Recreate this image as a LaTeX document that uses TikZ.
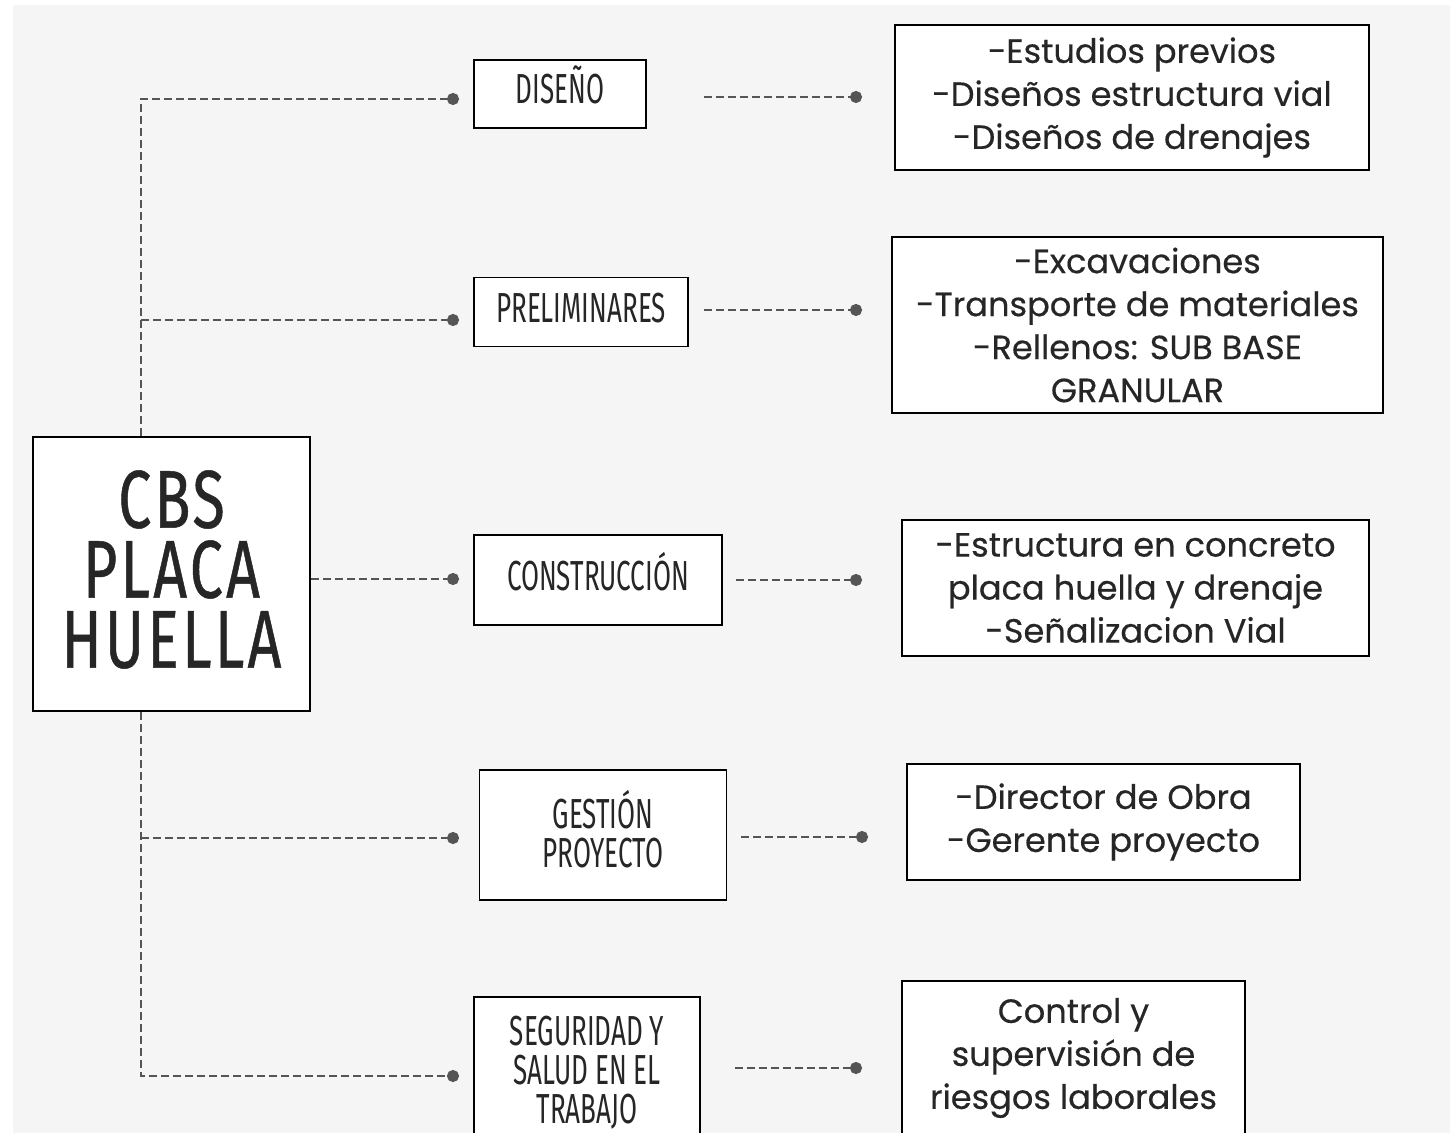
\documentclass[tikz,border=0pt]{standalone}
\usepackage{fontspec}
\setmainfont{Poppins}[FakeBold=0.4]
\newfontfamily\headfont[FakeStretch=0.62]{Fira Sans}
\newfontfamily\titlefont[FakeStretch=0.72,LetterSpace=4,FakeBold=0.6]{Fira Sans}
\usetikzlibrary{arrows.meta,positioning}
\definecolor{bggray}{HTML}{F5F5F5}
\definecolor{linkgray}{HTML}{555555}
\definecolor{inkgray}{HTML}{262626}

\begin{document}
\begin{tikzpicture}[
    x=0.5pt, y=-0.5pt,
    box/.style={draw=black, fill=white, line width=0.9pt, inner sep=0pt, align=center, text=inkgray},
    phase/.style={box, font=\headfont\fontsize{21}{19.5}\selectfont},
    task/.style={box, font=\fontsize{16.8}{21.5}\selectfont},
    link/.style={draw=linkgray, line width=1.2pt, dash pattern=on 4pt off 2pt, -{Circle[length=6pt]}}
]
\useasboundingbox (0,0) rectangle (1455,1133);
\fill[white] (0,0) rectangle (1455,1133);
\fill[bggray] (13,5) rectangle (1450,1133);

% root
\node[box, line width=1.2pt, minimum width=138.5pt, minimum height=137pt,
      font=\titlefont\fontsize{41}{35}\selectfont] (main) at (171.5,574)
    {\raisebox{5pt}{CBS}\\\raisebox{5pt}{PLACA}\\\raisebox{5pt}{HUELLA}};

% phases
\node[phase, minimum width=86pt, minimum height=34pt] (diseno) at (560,94) {\raisebox{9pt}{DISEÑO}};
\node[phase, minimum width=107pt, minimum height=34.5pt] (prelim) at (581,312) {\raisebox{4.5pt}{PRELIMINARES}};
\node[phase, minimum width=124pt, minimum height=45pt] (constr) at (598,580) {\raisebox{8.5pt}{CONSTRUCCIÓN}};
\node[phase, minimum width=123.5pt, minimum height=65pt] (gestion) at (603,835)
    {GESTIÓN\\PROYECTO\rule[-6pt]{0pt}{6pt}};
\node[phase, minimum width=113pt, minimum height=73pt] (sst) at (587,1070)
    {\rule{0pt}{17pt}SEGURIDAD Y\\SALUD EN EL\\TRABAJO};

% tasks
\node[task, minimum width=237pt, minimum height=72.5pt] (t1) at (1132,97.5)
    {-Estudios previos\\-Diseños estructura vial\\-Diseños de drenajes};
\node[task, minimum width=245.5pt, minimum height=88pt] (t2) at (1137.5,325)
    {-Excavaciones\\-Transporte de materiales\\-Rellenos: SUB BASE\\GRANULAR};
\node[task, minimum width=233.5pt, minimum height=68pt] (t3) at (1135.5,588)
    {-Estructura en concreto\\placa huella y drenaje\\-Señalizacion Vial};
\node[task, minimum width=196.5pt, minimum height=58pt] (t4) at (1103.5,822)
    {-Director de Obra\\-Gerente proyecto};
\node[task, minimum width=171.5pt, minimum height=77pt] (t5) at (1073.5,1058)
    {Control y\\supervisión de\\riesgos laborales};

% branches from the root
\coordinate (spine) at (141,0);
\coordinate (p1) at (459,99);
\coordinate (p2) at (459,320);
\coordinate (p3) at (459,579);
\coordinate (p4) at (459,838);
\coordinate (p5) at (459,1076);
\draw[link] (main.north -| spine) |- (p1);
\draw[link] (spine |- p2) -- (p2);
\draw[link] (main.east |- p3) -- (p3);
\draw[link] (spine |- p4) -- (p4);
\draw[link] (main.south -| spine) |- (p5);

% phase to task
\coordinate (q1s) at (704,97);   \coordinate (q1) at (862,97);
\coordinate (q2s) at (704,310);  \coordinate (q2) at (862,310);
\coordinate (q3s) at (736,580);  \coordinate (q3) at (862,580);
\coordinate (q4s) at (741,837);  \coordinate (q4) at (868,837);
\coordinate (q5s) at (735,1068); \coordinate (q5) at (862,1068);
\draw[link] (q1s) -- (q1);
\draw[link] (q2s) -- (q2);
\draw[link] (q3s) -- (q3);
\draw[link] (q4s) -- (q4);
\draw[link] (q5s) -- (q5);
\end{tikzpicture}
\end{document}
